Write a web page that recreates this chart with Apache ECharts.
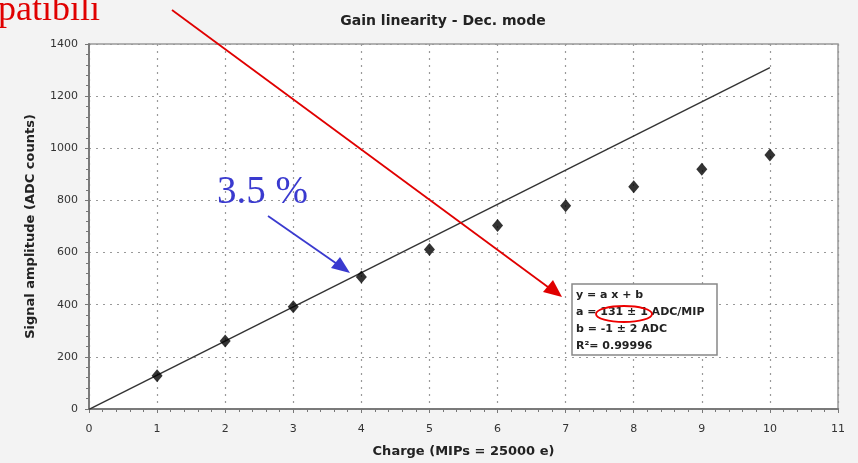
<!DOCTYPE html>
<html>
<head>
<meta charset="utf-8">
<script src="https://cdn.jsdelivr.net/npm/echarts@6/dist/echarts.min.js"></script>
<style>
html,body{margin:0;padding:0;background:#f3f3f3;}
#c{width:858px;height:463px;}
</style>
</head>
<body>
<div id="c"></div>
<script>
var charges = [1, 2, 3, 4, 5, 6, 7, 8, 9, 10];
var amplitudes = [128, 261, 392, 506, 612, 704, 780, 852, 920, 974];
var fitA = 131;
var fitB = -1;
var fitRange = [0, 10];
var legendLines = ['y = a x + b', 'a = 131 \u00b1 1 ADC/MIP', 'b = -1 \u00b1 2 ADC', 'R\u00b2= 0.99996'];
var titleText = 'Gain linearity - Dec. mode';
var xName = 'Charge (MIPs = 25000 e)';
var yName = 'Signal amplitude (ADC counts)';

var chart = echarts.init(document.getElementById('c'));
var points = charges.map(function (x, i) { return [x, amplitudes[i]]; });
var fitLine = fitRange.map(function (x) { return [x, fitA * x + fitB]; });

var axisFont = {fontFamily: 'DejaVu Sans', fontSize: 11, color: '#333'};
var nameFont = {fontFamily: 'DejaVu Sans', fontSize: 13, fontWeight: 'bold', color: '#222'};
var grid = {left: 89, right: 20, top: 44, bottom: 49, show: true, backgroundColor: '#fff', borderColor: '#999', borderWidth: 1.5};

function xAx(inside, main) {
  return {
    type: 'value', min: 0, max: 11, interval: 1,
    name: main ? xName : '', nameLocation: 'middle', nameGap: 36,
    nameTextStyle: nameFont,
    axisLine: {show: true, lineStyle: {color: '#777', width: 1.5}},
    axisTick: {show: true, inside: inside, length: 4, lineStyle: {color: '#777'}},
    minorTick: {show: true, splitNumber: 5, length: 3, lineStyle: {color: '#777'}},
    axisLabel: main ? Object.assign({margin: 15, formatter: function (v) { return String(v); }}, axisFont) : {show: false},
    splitLine: {show: main, lineStyle: {color: '#999', type: [2, 5], width: 1.2}}
  };
}
function yAx(inside, main) {
  return {
    type: 'value', min: 0, max: 1400, interval: 200,
    name: main ? yName : '', nameLocation: 'middle', nameGap: 52,
    nameTextStyle: nameFont,
    axisLine: {show: true, lineStyle: {color: '#777', width: 1.5}},
    axisTick: {show: true, inside: inside, length: 4, lineStyle: {color: '#777'}},
    minorTick: {show: true, splitNumber: 5, length: 3, lineStyle: {color: '#777'}},
    axisLabel: main ? Object.assign({margin: 11, formatter: function (v) { return String(v); }}, axisFont) : {show: false},
    splitLine: {show: main, lineStyle: {color: '#999', type: [2, 5], width: 1.2}}
  };
}

var legendGraphics = legendLines.map(function (t, i) {
  return {
    type: 'text', left: 576, top: 290 + i * 17, z: 20,
    style: {text: t, font: 'bold 11px DejaVu Sans', fill: '#222'}
  };
});

chart.setOption({
  backgroundColor: '#f3f3f3',
  animation: false,
  title: {
    text: titleText, left: 438, top: 9, textAlign: 'center',
    textStyle: {fontFamily: 'DejaVu Sans', fontSize: 14, fontWeight: 'bold', color: '#222'}
  },
  grid: grid,
  xAxis: [xAx(false, true), xAx(true, false)],
  yAxis: [yAx(false, true), yAx(true, false)],
  series: [
    {
      type: 'line', data: fitLine, showSymbol: false, symbol: 'none',
      lineStyle: {color: '#333', width: 1.4}, z: 3
    },
    {
      type: 'scatter', data: points, symbol: 'diamond', symbolSize: [11, 13],
      itemStyle: {color: '#000'}, z: 4
    }
  ],
  graphic: [
    {type: 'rect', shape: {x: 572, y: 284, width: 145, height: 71}, style: {fill: '#fff', stroke: '#888', lineWidth: 1.5}, z: 10},
    {type: 'ellipse', shape: {cx: 624, cy: 314, rx: 28, ry: 8}, style: {fill: 'none', stroke: '#e00', lineWidth: 1.8}, z: 30}
  ].concat(legendGraphics).concat([
    {type: 'text', left: -2, top: -7, z: 40, style: {text: 'patibili', font: '36px Liberation Serif', fill: '#e00000'}},
    {type: 'line', shape: {x1: 172, y1: 10, x2: 552, y2: 290}, style: {stroke: '#e00000', lineWidth: 1.8}, z: 40},
    {type: 'polygon', shape: {points: [[562, 297], [543, 292], [553, 280]]}, style: {fill: '#e00000'}, z: 40},
    {type: 'text', left: 217, top: 173, z: 40, style: {text: '3.5 %', font: '39px Liberation Serif', fill: '#3a3acf'}},
    {type: 'line', shape: {x1: 268, y1: 216, x2: 340, y2: 266}, style: {stroke: '#3a3acf', lineWidth: 1.8}, z: 40},
    {type: 'polygon', shape: {points: [[350, 273], [331, 268], [340, 257]]}, style: {fill: '#3a3acf'}, z: 40}
  ])
});
</script>
</body>
</html>
